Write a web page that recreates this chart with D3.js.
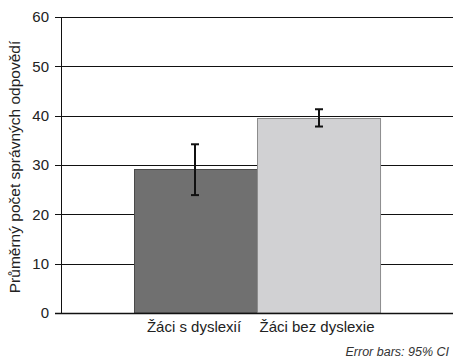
<!DOCTYPE html>
<html>
<head>
<meta charset="utf-8">
<script src="https://cdn.jsdelivr.net/npm/d3@7"></script>
<style>
  body { margin: 0; background: #fff; }
  text { font-family: "Liberation Sans", Arial, sans-serif; }
</style>
</head>
<body>
<div id="chart"></div>
<script>
const width = 453,
      height = 361;

const margin = { top: 17, right: 0, bottom: 48, left: 61 };

// data
const groups = ["Žáci s dyslexií", "Žáci bez dyslexie"]
const means = [29.2, 39.6]
const ciLow = [23.9, 37.8]
const ciHigh = [34.2, 41.3]
const yTicks = [0, 10, 20, 30, 40, 50, 60]
const fills = ["#707070", "#d1d1d3"]
const strokes = ["#4a4a4a", "#8c8c8c"]

const svg = d3.select("#chart")
  .append("svg")
    .attr("width", width)
    .attr("height", height)

const x = d3.scaleBand()
  .domain(groups)
  .range([margin.left, width - margin.right])
  .paddingInner(0)
  .paddingOuter(0.593)

const y = d3.scaleLinear()
  .domain([0, 60])
  .range([height - margin.bottom, margin.top])

// gridlines
svg.append("g")
  .selectAll("line")
  .data(yTicks.filter(d => d > 0))
  .join("line")
    .attr("x1", margin.left - 6)
    .attr("x2", width)
    .attr("y1", d => Math.round(y(d)) + 0.5)
    .attr("y2", d => Math.round(y(d)) + 0.5)
    .attr("stroke", "#111")
    .attr("stroke-width", 1)

// tick labels
svg.append("g")
  .selectAll("text")
  .data(yTicks)
  .join("text")
    .attr("x", margin.left - 12)
    .attr("y", d => y(d))
    .attr("dy", "0.36em")
    .attr("text-anchor", "end")
    .style("font-size", "15px")
    .attr("fill", "#222")
    .text(d => d)

// bars
const idx = d3.range(groups.length)
svg.append("g")
  .selectAll("rect")
  .data(idx)
  .join("rect")
    .attr("x", i => Math.round(x(groups[i])) + 0.5)
    .attr("y", i => Math.round(y(means[i])) + 0.5)
    .attr("width", x.bandwidth())
    .attr("height", i => y(0) - Math.round(y(means[i])) - 0.5)
    .attr("fill", i => fills[i])
    .attr("stroke", i => strokes[i])
    .attr("stroke-width", 1)

// error bars
const eb = svg.append("g")
  .attr("stroke", "#111")
  .attr("stroke-width", 2)
idx.forEach(function(i) {
  const cx = Math.round(x(groups[i]) + x.bandwidth() / 2)
  eb.append("line")
    .attr("x1", cx).attr("x2", cx)
    .attr("y1", y(ciHigh[i])).attr("y2", y(ciLow[i]))
  eb.append("line")
    .attr("x1", cx - 4).attr("x2", cx + 4)
    .attr("y1", y(ciHigh[i])).attr("y2", y(ciHigh[i]))
  eb.append("line")
    .attr("x1", cx - 4).attr("x2", cx + 4)
    .attr("y1", y(ciLow[i])).attr("y2", y(ciLow[i]))
})

// axis lines
svg.append("line")
  .attr("x1", margin.left + 0.5).attr("x2", margin.left + 0.5)
  .attr("y1", y(60)).attr("y2", y(0))
  .attr("stroke", "#111")
svg.append("line")
  .attr("x1", margin.left - 6).attr("x2", width)
  .attr("y1", Math.round(y(0)) + 0.5).attr("y2", Math.round(y(0)) + 0.5)
  .attr("stroke", "#111")
  .attr("stroke-width", 1.5)

// category labels
svg.append("g")
  .selectAll("text")
  .data(groups)
  .join("text")
    .attr("x", d => x(d) + x.bandwidth() / 2 - 1.5)
    .attr("y", y(0) + 19)
    .attr("text-anchor", "middle")
    .style("font-size", "15px")
    .attr("fill", "#222")
    .text(d => d)

// y title
svg.append("text")
  .attr("transform", `translate(20,${(y(0) + y(60)) / 2 + 2}) rotate(-90)`)
  .attr("text-anchor", "middle")
  .style("font-size", "15.5px")
  .attr("fill", "#222")
  .text("Průměrný počet správných odpovědí")

// note
svg.append("text")
  .attr("x", width - 4)
  .attr("y", height - 5)
  .attr("text-anchor", "end")
  .style("font-size", "12.5px")
  .style("font-style", "italic")
  .attr("fill", "#333")
  .text("Error bars: 95% CI")
</script>
</body>
</html>
